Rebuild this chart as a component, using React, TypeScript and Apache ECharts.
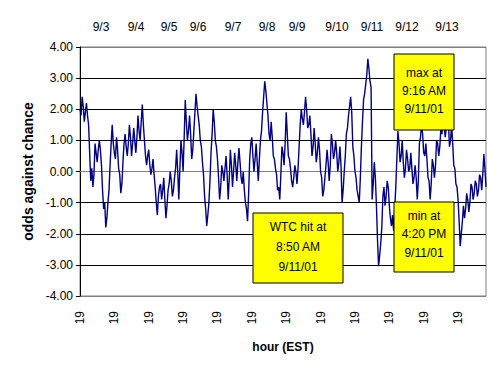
import React, { useEffect, useRef } from "react";
import * as echarts from "echarts";

// odds against chance, one reading every 0.75 hours, starting 19:00 on 9/2
const hourStep = 0.75;
const startHour = 19;
const oddsValues: number[] = [
  2.0, 1.8, 2.4, 2.1, 1.6, 1.9, 2.2, 1.8, 1.5, 0.6, -0.3, 0.1, -0.5, -0.1, 0.9, 0.6, 0.3, 0.7, 1.0, 0.7,
  0.2, -0.6, -1.2, -1.0, -1.8, -1.5, -1.0, -0.6, 0.2, 0.9, 1.5, 0.9, 0.6, 0.4, 1.1, 0.7, 0.1, -0.1, -0.7, -0.4,
  0.3, 0.9, 1.2, 0.8, 0.5, 0.9, 1.5, 1.1, 0.5, 0.9, 1.4, 1.0, 0.6, 1.1, 1.8, 1.3, 1.0, 1.6, 2.15, 1.5,
  1.0, 0.5, 0.2, 0.5, 0.7, 0.2, -0.1, 0.1, 0.4, -0.1, -0.5, -1.0, -1.4, -0.8, -0.5, -0.4, -0.9, -0.6, -0.2, -0.9,
  -1.5, -1.1, -0.6, -0.4, 0.0, -0.3, -0.8, -0.6, -0.2, 0.1, 0.7, 0.0, -0.9, 0.1, 1.0, 0.6, 0.0, 1.1, 2.3, 1.6,
  1.0, 1.3, 1.8, 1.2, 0.4, 0.7, 1.3, 1.9, 2.5, 2.1, 1.8, 1.5, 1.0, 0.8, 0.3, -0.1, -0.8, -1.2, -1.75, -1.4,
  -1.0, -0.3, 0.6, 1.2, 2.0, 1.6, 1.0, 0.8, 0.4, -0.2, -0.9, -0.5, 0.2, 0.0, -0.3, 0.1, 0.5, -0.1, -0.9, -0.2,
  0.7, 0.2, -0.5, 0.0, 0.6, 0.2, -0.3, 0.3, 0.75, 0.3, -0.2, -0.4, 0.0, -0.6, -1.0, -1.2, -1.6, -0.7, 0.4, 0.9,
  1.1, 0.5, 0.0, 0.4, 0.9, 0.3, -0.3, 0.4, 1.0, 1.3, 1.9, 2.4, 2.9, 2.6, 2.2, 1.8, 1.2, 1.0, 1.6, 1.1,
  0.5, 0.4, 0.1, -0.1, -0.6, -0.5, -0.9, -0.1, 0.8, 0.6, 0.2, 0.9, 1.9, 1.2, 0.5, 0.4, 0.1, -0.3, -0.5, -0.2,
  0.2, 0.0, -0.4, 0.1, 0.8, 1.5, 2.0, 1.7, 1.5, 1.9, 2.4, 2.0, 1.4, 1.5, 1.8, 1.2, 0.5, 0.8, 1.4, 0.9,
  0.3, 0.6, 1.1, 0.7, 0.0, -0.2, -0.8, -0.6, -0.2, 0.2, 0.7, 0.3, -0.3, 0.2, 1.2, 0.9, 0.4, 0.6, 1.0, 0.6,
  0.0, 0.3, 0.8, 0.2, -1.0, -0.6, 0.0, 0.5, 1.2, 1.4, 1.8, 2.1, 2.4, 1.9, 0.8, 0.5, 0.0, -0.2, -0.6, -0.8,
  -1.0, -0.2, 0.8, 1.6, 2.3, 2.5, 2.8, 3.1, 3.62, 3.3, 2.9, 2.7, -0.9, -0.4, 0.3, -0.2, -1.1, -2.2, -3.04, -2.7,
  -2.3, -1.8, -0.8, -0.5, -1.1, -0.8, -0.3, -0.5, -1.1, -1.5, -1.75, -1.4, -1.9, -1.2, -0.5, 0.4, 1.3, 0.9, 0.3, 0.5,
  1.0, 0.3, -0.2, 0.1, 0.7, 0.4, 0.0, 0.1, 0.6, 0.1, -0.4, -0.2, 0.2, -0.2, -0.9, -0.3, 0.9, 1.1, 1.5, 1.2,
  0.6, 0.5, 0.9, 0.4, -0.2, -0.3, -0.9, -0.4, 0.4, 0.2, -0.2, 0.2, 1.0, 0.9, 0.5, 0.8, 1.4, 1.2, 1.7, 1.5,
  1.1, 1.4, 2.0, 1.6, 0.8, 1.0, 1.5, 0.9, 0.2, 0.1, -0.4, -0.5, -0.9, -1.6, -2.4, -2.0, -1.6, -1.1, -1.5, -1.2,
  -0.7, -0.9, -1.3, -1.0, -0.4, -0.5, -0.9, -0.7, -0.3, -0.4, -0.8, -0.6, -0.1, -0.2, -0.6, -0.1, 0.56, 0.1, -0.5,
];

const dayLabels = ["9/3", "9/4", "9/5", "9/6", "9/7", "9/8", "9/9", "9/10", "9/11", "9/12", "9/13"];
const dayLabelX = [101, 136, 169, 198, 233, 267, 297, 337, 372, 407, 447];

const wtcText = ["WTC hit at", "8:50 AM", "9/11/01"];
const maxText = ["max at", "9:16 AM", "9/11/01"];
const minText = ["min at", "4:20 PM", "9/11/01"];

const FONT = '"Liberation Sans", Arial, sans-serif';

function box(x: number, y: number, w: number, h: number, lines: string[], lineYs: number[]) {
  return {
    type: "group",
    z: 100,
    children: [
      {
        type: "rect",
        shape: { x, y, width: w, height: h },
        style: { fill: "#FFFF00", stroke: "#000000", lineWidth: 1 },
        z: 100,
      },
      ...lines.map((t, i) => ({
        type: "text",
        x: x + w / 2,
        y: lineYs[i],
        z: 101,
        style: {
          text: t,
          fill: "#000",
          font: `12px ${FONT}`,
          textAlign: "center",
          textVerticalAlign: "middle",
        },
      })),
    ],
  };
}

export default function App() {
  const ref = useRef<HTMLDivElement>(null);
  useEffect(() => {
    if (!ref.current) return;
    const chart = echarts.init(ref.current, undefined, { renderer: "svg" });
    const data = oddsValues.map((v, i) => [i * hourStep, v]);
    const xMax = (oddsValues.length - 1) * hourStep;
    chart.setOption({
      animation: false,
      backgroundColor: "#ffffff",
      textStyle: { fontFamily: FONT },
      grid: {
        left: 80,
        right: 14,
        top: 47,
        bottom: 84,
        show: true,
        borderColor: "#808080",
        borderWidth: 1,
        backgroundColor: "transparent",
      },
      xAxis: {
        type: "value",
        min: 0,
        max: xMax,
        interval: 24,
        name: "hour (EST)",
        nameLocation: "middle",
        nameGap: 45,
        nameTextStyle: { fontFamily: FONT, fontSize: 12, fontWeight: "bold", color: "#000" },
        axisLine: { show: true, lineStyle: { color: "#808080", width: 1 } },
        axisTick: { show: false },
        splitLine: { show: false },
        axisLabel: {
          rotate: 90,
          margin: 15,
          showMaxLabel: false,
          fontFamily: FONT,
          fontSize: 12,
          color: "#000",
          formatter: (v: number) => String((startHour + v) % 24),
        },
      },
      yAxis: {
        type: "value",
        min: -4,
        max: 4,
        interval: 1,
        name: "odds against chance",
        nameLocation: "middle",
        nameGap: 40,
        nameRotate: 90,
        nameTextStyle: { fontFamily: FONT, fontSize: 14, fontWeight: "bold", color: "#000" },
        axisLine: { show: true, lineStyle: { color: "#000", width: 1 } },
        axisTick: { show: true, length: 4, lineStyle: { color: "#000" } },
        axisLabel: {
          margin: 7,
          fontFamily: FONT,
          fontSize: 12,
          color: "#000",
          formatter: (v: number) => v.toFixed(2),
        },
        splitLine: {
          show: true,
          lineStyle: {
            color: ["#808080", "#000", "#000", "#000", "#000", "#000", "#000", "#000", "#808080"],
            width: 1,
          },
        },
      },
      series: [
        {
          type: "line",
          data,
          showSymbol: false,
          symbol: "none",
          lineStyle: { color: "#000080", width: 1.4 },
          z: 5,
        },
      ],
      graphic: [
        ...dayLabels.map((t, i) => ({
          type: "text",
          x: dayLabelX[i],
          y: 27,
          style: {
            text: t,
            fill: "#000",
            font: `12px ${FONT}`,
            textAlign: "center",
            textVerticalAlign: "middle",
          },
        })),
        box(253, 213, 90, 70, wtcText, [227, 247, 267]),
        box(394, 54, 60, 76, maxText, [73, 91, 109]),
        box(394, 202, 60, 70, minText, [216, 234, 253]),
      ],
    });
    return () => chart.dispose();
  }, []);
  return (
    <div
      ref={ref}
      style={{ position: "absolute", left: 0, top: 0, width: 500, height: 380 }}
    />
  );
}
